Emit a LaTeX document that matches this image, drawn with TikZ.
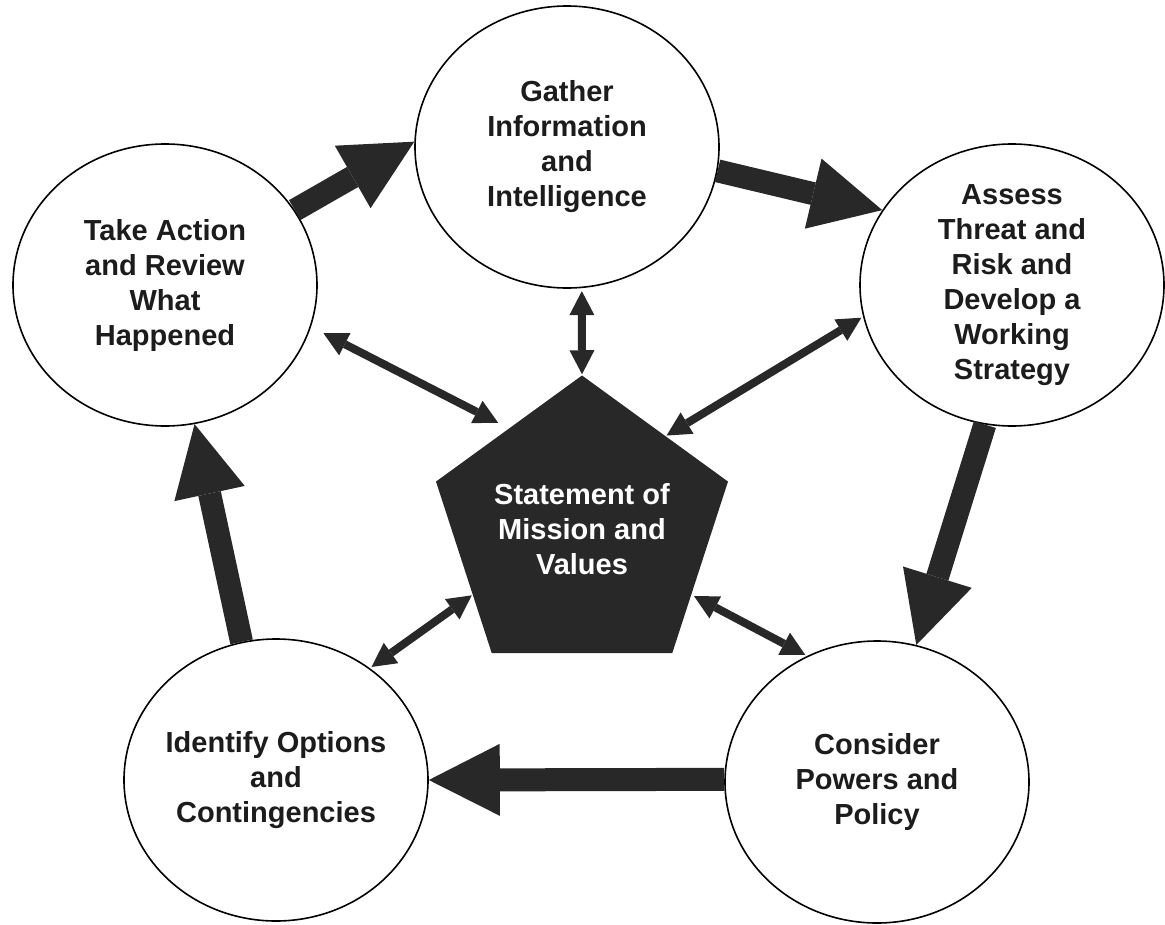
\documentclass[tikz,border=0pt]{standalone}
\usepackage{fontspec}
\setmainfont{Liberation Sans}
\usetikzlibrary{arrows.meta,shapes.geometric}
\definecolor{dk}{RGB}{40,40,40}
\definecolor{txt}{RGB}{28,28,28}
\begin{document}
\begin{tikzpicture}[x=1pt,y=-1pt,
  stage/.style={ellipse, draw=black, line width=1.6pt, fill=white,
    minimum width=304pt, minimum height=282pt, inner sep=-10pt,
    align=center, text=txt, font=\bfseries\fontsize{29}{35}\selectfont},
  core/.style={regular polygon, regular polygon sides=5, minimum size=296pt,
    inner sep=0pt, fill=dk, draw=none, text=white, align=center,
    font=\bfseries\fontsize{29}{35}\selectfont},
  cyc/.style={draw=dk, line width=23pt,
    -{Triangle[width=72pt,length=71pt,line width=0pt]}},
  link/.style={draw=dk, line width=8pt,
    {Triangle[width=25pt,length=24pt,line width=0pt]}-{Triangle[width=25pt,length=24pt,line width=0pt]}}
]
\useasboundingbox (0,0) rectangle (1165,924);

\node[stage] (gather)   at (567,147) {Gather\\Information\\and\\Intelligence};
\node[stage] (take)     at (165,285) {Take Action\\and Review\\What\\Happened};
\node[stage] (assess)   at (1012,285) {Assess\\Threat and\\Risk and\\Develop a\\Working\\Strategy};
\node[stage] (identify) at (276,780) {Identify Options\\and\\Contingencies};
\node[stage] (consider) at (877,782) {Consider\\Powers and\\Policy};
\node[core]  (pent)     at (582,529) {Statement of\\Mission and\\Values};

% cycle arrows
\draw[cyc] (take.30) -- (gather.178);
\draw[cyc] (gather.-9) -- (assess.150);
\draw[cyc] (assess.-101) -- (consider.74);
\draw[cyc] (consider.179) -- (identify.0.3);
\draw[cyc] (identify.104) -- (take.-78);

% links to the centre
\draw[link, shorten <=14pt, shorten >=12pt] (take.-16.8) -- (pent.126.4);
\draw[link, shorten <=3pt, shorten >=1pt] (gather.-84) -- (pent.north);
\draw[link, shorten <=2pt, shorten >=1pt] (assess.192.5) -- (pent.48);
\draw[link, shorten <=2pt, shorten >=1pt] (identify.50) -- (pent.211);
\draw[link, shorten <=2pt, shorten >=3pt] (consider.119.4) -- (pent.-31);
\end{tikzpicture}
\end{document}
